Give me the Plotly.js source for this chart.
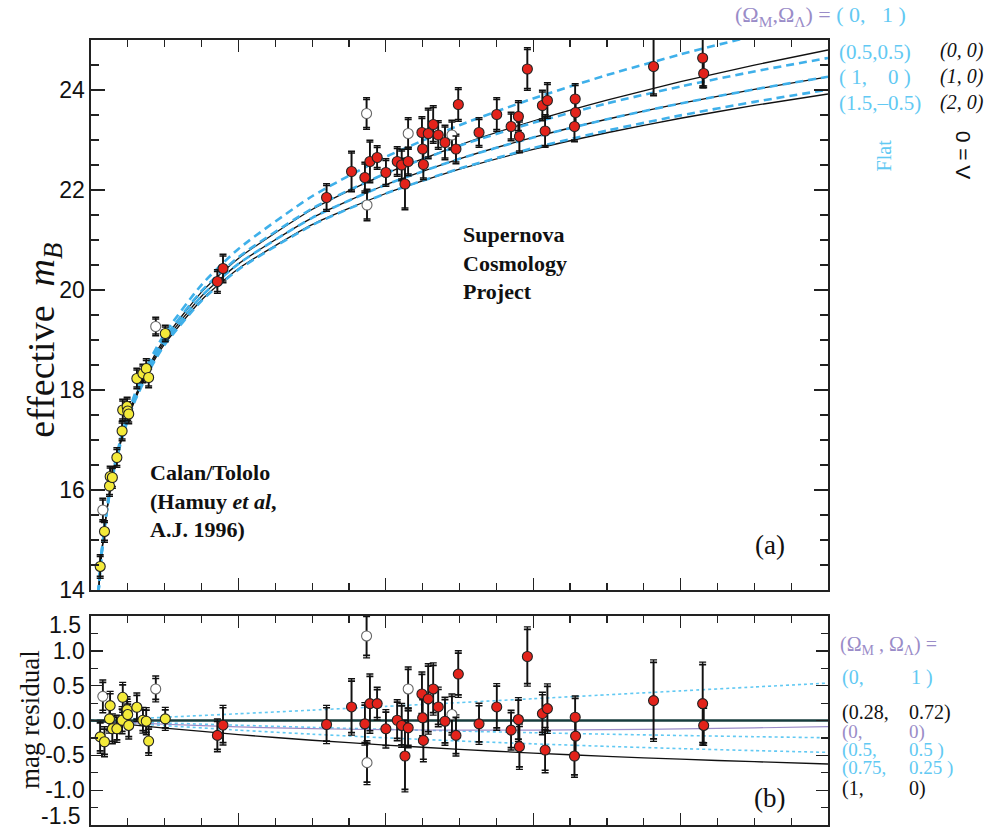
<!DOCTYPE html>
<html>
<head>
<meta charset="utf-8">
<script src="https://cdn.plot.ly/plotly-3.0.1.min.js"></script>
<style>html,body{margin:0;padding:0;background:#fff;}#chart{width:985px;height:828px;}</style>
</head>
<body>
<div id="chart"></div>
<script>
// ---------- model curves, panel (a): effective m_B vs redshift ----------
const zCurveA = [0.01, 0.0125, 0.015, 0.02, 0.025, 0.03, 0.04, 0.05, 0.06, 0.08, 0.1, 0.15, 0.2, 0.3, 0.4, 0.5, 0.6, 0.7, 0.8, 0.9, 1.0];
const mFlat_0_1    = [13.942, 14.432, 14.833, 15.468, 15.963, 16.370, 17.015, 17.521, 17.937, 18.602, 19.127, 20.104, 20.821, 21.875, 22.661, 23.295, 23.831, 24.298, 24.712, 25.085, 25.425];
const mFlat_05_05  = [13.934, 14.421, 14.821, 15.452, 15.943, 16.346, 16.984, 17.482, 17.891, 18.541, 19.045, 19.981, 20.656, 21.628, 22.332, 22.886, 23.343, 23.732, 24.071, 24.371, 24.640];
const mFlat_1_0    = [13.925, 14.411, 14.809, 15.436, 15.923, 16.322, 16.952, 17.442, 17.843, 18.478, 18.971, 19.875, 20.522, 21.443, 22.105, 22.624, 23.051, 23.415, 23.731, 24.012, 24.264];
const mFlat_15_m05 = [13.917, 14.401, 14.796, 15.420, 15.903, 16.297, 16.919, 17.401, 17.794, 18.414, 18.904, 19.783, 20.408, 21.295, 21.930, 22.427, 22.838, 23.187, 23.492, 23.763, 24.006];
const mL0_0_0      = [13.931, 14.418, 14.817, 15.447, 15.937, 16.338, 16.973, 17.468, 17.875, 18.521, 19.026, 19.957, 20.632, 21.609, 22.326, 22.899, 23.380, 23.797, 24.166, 24.498, 24.800];
const mL0_1_0      = mFlat_1_0;
const mL0_2_0      = [13.920, 14.405, 14.800, 15.425, 15.910, 16.306, 16.930, 17.415, 17.811, 18.435, 18.920, 19.800, 20.425, 21.306, 21.930, 22.415, 22.811, 23.145, 23.435, 23.691, 23.920];

// ---------- model curves, panel (b): residuals from (0.28, 0.72) ----------
const zCurveB = [0, 0.05, 0.1, 0.2, 0.3, 0.4, 0.5, 0.6, 0.7, 0.8, 0.9, 1.0];
const res_0_1     = [0, 0.0232, 0.0471, 0.0969, 0.1489, 0.2026, 0.2575, 0.3132, 0.3693, 0.4255, 0.4816, 0.5373];
const res_028_072 = [0, 0, 0, 0, 0, 0, 0, 0, 0, 0, 0, 0];
const res_0_0     = [0, -0.0291, -0.0539, -0.0920, -0.1173, -0.1321, -0.1384, -0.1377, -0.1313, -0.1202, -0.1054, -0.0874];
const res_05_05   = [0, -0.0156, -0.0350, -0.0679, -0.0985, -0.1265, -0.1521, -0.1753, -0.1962, -0.2152, -0.2323, -0.2478];
const res_075_025 = [0, -0.0359, -0.0728, -0.1381, -0.1964, -0.2481, -0.2941, -0.3348, -0.3710, -0.4032, -0.4319, -0.4576];
const res_1_0     = [0, -0.0565, -0.1087, -0.2022, -0.2831, -0.3530, -0.4140, -0.4672, -0.5140, -0.5552, -0.5916, -0.6240];

// ---------- Calan/Tololo supernovae (yellow) ----------
const ctZ   = [0.0125, 0.0183, 0.0251, 0.0260, 0.0290, 0.0351, 0.0422, 0.0430, 0.0490, 0.0498, 0.0512, 0.0622, 0.0704, 0.0750, 0.0782, 0.1008];
const ctM   = [14.47, 15.17, 16.08, 16.27, 16.25, 16.65, 17.18, 17.60, 17.67, 17.58, 17.52, 18.23, 18.33, 18.43, 18.25, 19.13];
const ctRes = [-0.235, -0.305, 0.024, 0.214, -0.119, -0.119, 0.004, 0.333, 0.157, 0.086, -0.071, 0.19, 0.004, -0.01, -0.295, 0.024];
const ctErr = [0.20, 0.18, 0.17, 0.17, 0.18, 0.16, 0.16, 0.18, 0.15, 0.15, 0.16, 0.17, 0.15, 0.16, 0.17, 0.13];
const ctOpenZ   = [0.0160, 0.0878];
const ctOpenM   = [15.60, 19.27];
const ctOpenRes = [0.347, 0.453];
const ctOpenErr = [0.20, 0.15];

// ---------- Supernova Cosmology Project supernovae (red) ----------
const scpZ   = [0.1715, 0.1791, 0.3196, 0.3535, 0.3716, 0.3784, 0.3883, 0.4001, 0.4155, 0.4215, 0.4260, 0.4304, 0.4490, 0.4500, 0.4510, 0.4576, 0.4644, 0.4712, 0.4803, 0.4952, 0.4984, 0.5265, 0.5505, 0.5700, 0.5799, 0.5813, 0.5921, 0.6125, 0.6193, 0.6162, 0.6570, 0.6575, 0.6560, 0.7633, 0.8299, 0.8313];
const scpM   = [20.17, 20.43, 21.85, 22.37, 22.25, 22.57, 22.65, 22.35, 22.57, 22.50, 22.12, 22.57, 23.15, 22.82, 22.51, 23.13, 23.31, 23.10, 22.95, 22.82, 23.71, 23.15, 23.51, 23.27, 23.47, 23.07, 24.42, 23.69, 23.79, 23.18, 23.82, 23.55, 23.27, 24.47, 24.64, 24.33];
const scpRes = [-0.214, -0.067, -0.057, 0.195, -0.048, 0.243, 0.243, -0.119, 0.004, -0.071, -0.51, -0.105, 0.381, 0.039, -0.286, 0.31, 0.453, 0.195, -0.01, -0.214, 0.667, -0.048, 0.195, -0.138, 0.014, -0.376, 0.919, 0.10, 0.171, -0.424, 0.047, -0.224, -0.51, 0.286, 0.243, -0.071];
const scpErr = [0.20, 0.25, 0.24, 0.37, 0.27, 0.39, 0.20, 0.24, 0.26, 0.28, 0.48, 0.25, 0.28, 0.26, 0.27, 0.47, 0.34, 0.25, 0.31, 0.26, 0.30, 0.26, 0.30, 0.25, 0.28, 0.29, 0.39, 0.27, 0.32, 0.29, 0.27, 0.27, 0.27, 0.55, 0.56, 0.25];
const scpOpenZ   = [0.3739, 0.3745, 0.4304, 0.4897];
const scpOpenM   = [23.53, 21.70, 23.13, 23.10];
const scpOpenRes = [1.214, -0.605, 0.453, 0.086];
const scpOpenErr = [0.28, 0.28, 0.28, 0.26];

// tick labels of the residual panel
const resTickVals = [-1.5, -1, -0.5, 0, 0.5, 1, 1.5];
const resTickText = ['', '-1.0', '-0.5', '0.0', '0.5', '1.0', ''];

// ---------- styling ----------
const BLUE = '#3fb0ea';
const CYAN = '#62c9f3';
const PURPLE = '#9a8cc8';
const RED = '#e3231b';
const YELLOW = '#f3ea3a';
const SERIF = 'Liberation Serif, Times New Roman, serif';
const SANS = 'Liberation Sans, Arial, sans-serif';
const OUTER_GAP = 0.035;   // second (outer) error-bar cap offset

function curve(x, y, xa, ya, color, width, dash) {
  return {x: x, y: y, xaxis: xa, yaxis: ya, type: 'scatter', mode: 'lines',
          line: {color: color, width: width, dash: dash || 'solid', shape: 'spline', smoothing: 0.6},
          hoverinfo: 'skip', showlegend: false};
}
function outerBars(x, y, err, xa, ya) {
  return {x: x, y: y, xaxis: xa, yaxis: ya, type: 'scatter', mode: 'markers',
          marker: {size: 1, color: 'rgba(0,0,0,0)'},
          error_y: {type: 'data', array: err.map(e => e + OUTER_GAP), color: '#111', thickness: 1.4, width: 3.5},
          hoverinfo: 'skip', showlegend: false};
}
function points(x, y, err, xa, ya, fill, edge) {
  return {x: x, y: y, xaxis: xa, yaxis: ya, type: 'scatter', mode: 'markers',
          marker: {size: 10, color: fill, line: {color: edge, width: 1.1}},
          error_y: {type: 'data', array: err, color: '#111', thickness: 1.7, width: 3.5},
          showlegend: false};
}

const traces = [
  curve(zCurveA, mL0_0_0, 'x', 'y', '#111', 1.3),
  curve(zCurveA, mL0_1_0, 'x', 'y', '#111', 1.3),
  curve(zCurveA, mL0_2_0, 'x', 'y', '#111', 1.3),
  curve(zCurveA, mFlat_0_1, 'x', 'y', BLUE, 2.6, '8px,5px'),
  curve(zCurveA, mFlat_05_05, 'x', 'y', BLUE, 2.6, '8px,5px'),
  curve(zCurveA, mFlat_1_0, 'x', 'y', BLUE, 2.6, '8px,5px'),
  curve(zCurveA, mFlat_15_m05, 'x', 'y', BLUE, 2.6, '8px,5px'),
  curve(zCurveB, res_0_1, 'x2', 'y2', CYAN, 1.6, 'dot'),
  curve(zCurveB, res_05_05, 'x2', 'y2', CYAN, 1.6, 'dot'),
  curve(zCurveB, res_075_025, 'x2', 'y2', CYAN, 1.6, 'dot'),
  curve(zCurveB, res_0_0, 'x2', 'y2', PURPLE, 1.2),
  curve(zCurveB, res_1_0, 'x2', 'y2', '#111', 1.3),
  curve(zCurveB, res_028_072, 'x2', 'y2', '#173d3d', 2.6),
  outerBars(ctZ, ctM, ctErr, 'x', 'y'),
  outerBars(ctOpenZ, ctOpenM, ctOpenErr, 'x', 'y'),
  outerBars(scpZ, scpM, scpErr, 'x', 'y'),
  outerBars(scpOpenZ, scpOpenM, scpOpenErr, 'x', 'y'),
  points(ctOpenZ, ctOpenM, ctOpenErr, 'x', 'y', '#ffffff', '#666'),
  points(scpOpenZ, scpOpenM, scpOpenErr, 'x', 'y', '#ffffff', '#666'),
  points(ctZ, ctM, ctErr, 'x', 'y', YELLOW, '#222'),
  points(scpZ, scpM, scpErr, 'x', 'y', RED, '#222'),
  outerBars(ctZ, ctRes, ctErr, 'x2', 'y2'),
  outerBars(ctOpenZ, ctOpenRes, ctOpenErr, 'x2', 'y2'),
  outerBars(scpZ, scpRes, scpErr, 'x2', 'y2'),
  outerBars(scpOpenZ, scpOpenRes, scpOpenErr, 'x2', 'y2'),
  points(ctOpenZ, ctOpenRes, ctOpenErr, 'x2', 'y2', '#ffffff', '#666'),
  points(scpOpenZ, scpOpenRes, scpOpenErr, 'x2', 'y2', '#ffffff', '#666'),
  points(ctZ, ctRes, ctErr, 'x2', 'y2', YELLOW, '#222'),
  points(scpZ, scpRes, scpErr, 'x2', 'y2', RED, '#222')
];

const xAxisBase = {
  range: [0, 1], showticklabels: false, showgrid: false, zeroline: false,
  ticks: 'inside', tick0: 0, dtick: 0.2, ticklen: 12, tickwidth: 1.3, tickcolor: '#222',
  minor: {ticks: 'inside', dtick: 0.05, ticklen: 7, tickwidth: 1.2, tickcolor: '#222', showgrid: false},
  showline: true, linewidth: 1.6, linecolor: '#222', mirror: 'allticks'
};
const yAxisBase = {
  showgrid: false, zeroline: false, ticks: 'inside', tickwidth: 1.3, tickcolor: '#222',
  showline: true, linewidth: 1.6, linecolor: '#222', mirror: 'allticks',
  tickfont: {family: SANS, size: 23, color: '#111'}
};

function A(text, x, y, opts) {
  return Object.assign({text: text, x: x, y: y, xref: 'paper', yref: 'paper', showarrow: false,
    xanchor: 'left', yanchor: 'middle', font: {family: SERIF, size: 21, color: CYAN}}, opts || {});
}
const NB = '\u00a0';
const annotations = [
  // y titles
  A('effective  <i>m<sub>B</sub></i>', -0.064, 0.618, {xanchor: 'center', textangle: -90, font: {family: SERIF, size: 38, color: '#111'}}),
  A('mag residual', -0.0825, 0.134, {xanchor: 'center', textangle: -90, font: {family: SERIF, size: 27, color: '#111'}}),
  // end labels of the residual axis (drawn a little inside, as in the reference)
  A('1.5', -0.0115, 0.2548, {xanchor: 'right', font: {family: SANS, size: 23, color: '#111'}}),
  A('-1.5', -0.0115, 0.0115, {xanchor: 'right', font: {family: SANS, size: 23, color: '#111'}}),
  // in-plot labels
  A('<b>Supernova<br>Cosmology<br>Project</b>', 0.502, 0.771, {yanchor: 'top', align: 'left', font: {family: SERIF, size: 22, color: '#111'}}),
  A('<b>Calan/Tololo<br>(Hamuy <i>et al</i>,<br>A.J. 1996)</b>', 0.077, 0.468, {yanchor: 'top', align: 'left', font: {family: SERIF, size: 22, color: '#111'}}),
  A('(a)', 0.921, 0.357, {xanchor: 'center', font: {family: SERIF, size: 27, color: '#111'}}),
  A('(b)', 0.921, 0.035, {xanchor: 'center', font: {family: SERIF, size: 27, color: '#111'}}),
  // panel (a) right-side legend
  A('<span style="color:' + PURPLE + '">(Ω<sub>M</sub>,Ω<sub>Λ</sub>) = </span>(' + NB + '0,' + NB + NB + NB + '1' + NB + ')', 0.871, 1.031, {font: {family: SERIF, size: 22, color: CYAN}}),
  A('(0.5,0.5)', 1.012, 0.985),
  A('(' + NB + '1,' + NB + NB + NB + NB + '0' + NB + ')', 1.012, 0.953),
  A('(1.5,–0.5)', 1.012, 0.920),
  A('<i>(0, 0)</i>', 1.149, 0.987, {font: {family: SERIF, size: 20, color: '#111'}}),
  A('<i>(1, 0)</i>', 1.149, 0.953, {font: {family: SERIF, size: 20, color: '#111'}}),
  A('<i>(2, 0)</i>', 1.149, 0.920, {font: {family: SERIF, size: 20, color: '#111'}}),
  A('Flat', 1.076, 0.853, {xanchor: 'center', textangle: -90, font: {family: SERIF, size: 20, color: CYAN}}),
  A('Λ = 0', 1.183, 0.853, {xanchor: 'center', textangle: -90, font: {family: SANS, size: 21, color: '#111'}}),
  // panel (b) right-side legend
  A('(Ω<sub>M</sub> , Ω<sub>Λ</sub>) =', 1.013, 0.229, {font: {family: SERIF, size: 20, color: PURPLE}}),
  A('(0,', 1.016, 0.188, {font: {family: SERIF, size: 20, color: CYAN}}),
  A('1 )', 1.110, 0.188, {font: {family: SERIF, size: 20, color: CYAN}}),
  A('(0.28,', 1.016, 0.143, {font: {family: SERIF, size: 20, color: '#111'}}),
  A('0.72)', 1.107, 0.143, {font: {family: SERIF, size: 20, color: '#111'}}),
  A('(0,', 1.016, 0.119, {font: {family: SERIF, size: 19, color: PURPLE}}),
  A('0)', 1.107, 0.119, {font: {family: SERIF, size: 19, color: PURPLE}}),
  A('(0.5,', 1.016, 0.096, {font: {family: SERIF, size: 19, color: CYAN}}),
  A('0.5 )', 1.107, 0.096, {font: {family: SERIF, size: 19, color: CYAN}}),
  A('(0.75,', 1.016, 0.072, {font: {family: SERIF, size: 19, color: CYAN}}),
  A('0.25 )', 1.107, 0.072, {font: {family: SERIF, size: 19, color: CYAN}}),
  A('(1,', 1.016, 0.047, {font: {family: SERIF, size: 20, color: '#111'}}),
  A('0)', 1.107, 0.047, {font: {family: SERIF, size: 20, color: '#111'}})
];

const layout = {
  width: 985, height: 828,
  margin: {l: 91, r: 157, t: 40, b: 3, pad: 0},
  paper_bgcolor: '#ffffff', plot_bgcolor: '#ffffff',
  showlegend: false,
  xaxis: Object.assign({}, xAxisBase, {domain: [0, 1], anchor: 'y'}),
  xaxis2: Object.assign({}, xAxisBase, {domain: [0, 1], anchor: 'y2'}),
  yaxis: Object.assign({}, yAxisBase, {domain: [0.2994, 1], anchor: 'x', range: [14, 25],
    tick0: 0, dtick: 2, ticklen: 14,
    minor: {ticks: 'inside', dtick: 0.5, ticklen: 8, tickwidth: 1.2, tickcolor: '#222', showgrid: false}}),
  yaxis2: Object.assign({}, yAxisBase, {domain: [0, 0.2662], anchor: 'x2', range: [-1.5, 1.5],
    tickmode: 'array', tickvals: resTickVals, ticktext: resTickText,
    ticklen: 12,
    minor: {ticks: 'inside', tickmode: 'linear', tick0: 0, dtick: 0.25, ticklen: 7, tickwidth: 1.2, tickcolor: '#222', showgrid: false}}),
  annotations: annotations
};

Plotly.newPlot('chart', traces, layout, {staticPlot: true, displayModeBar: false});
</script>
</body>
</html>
